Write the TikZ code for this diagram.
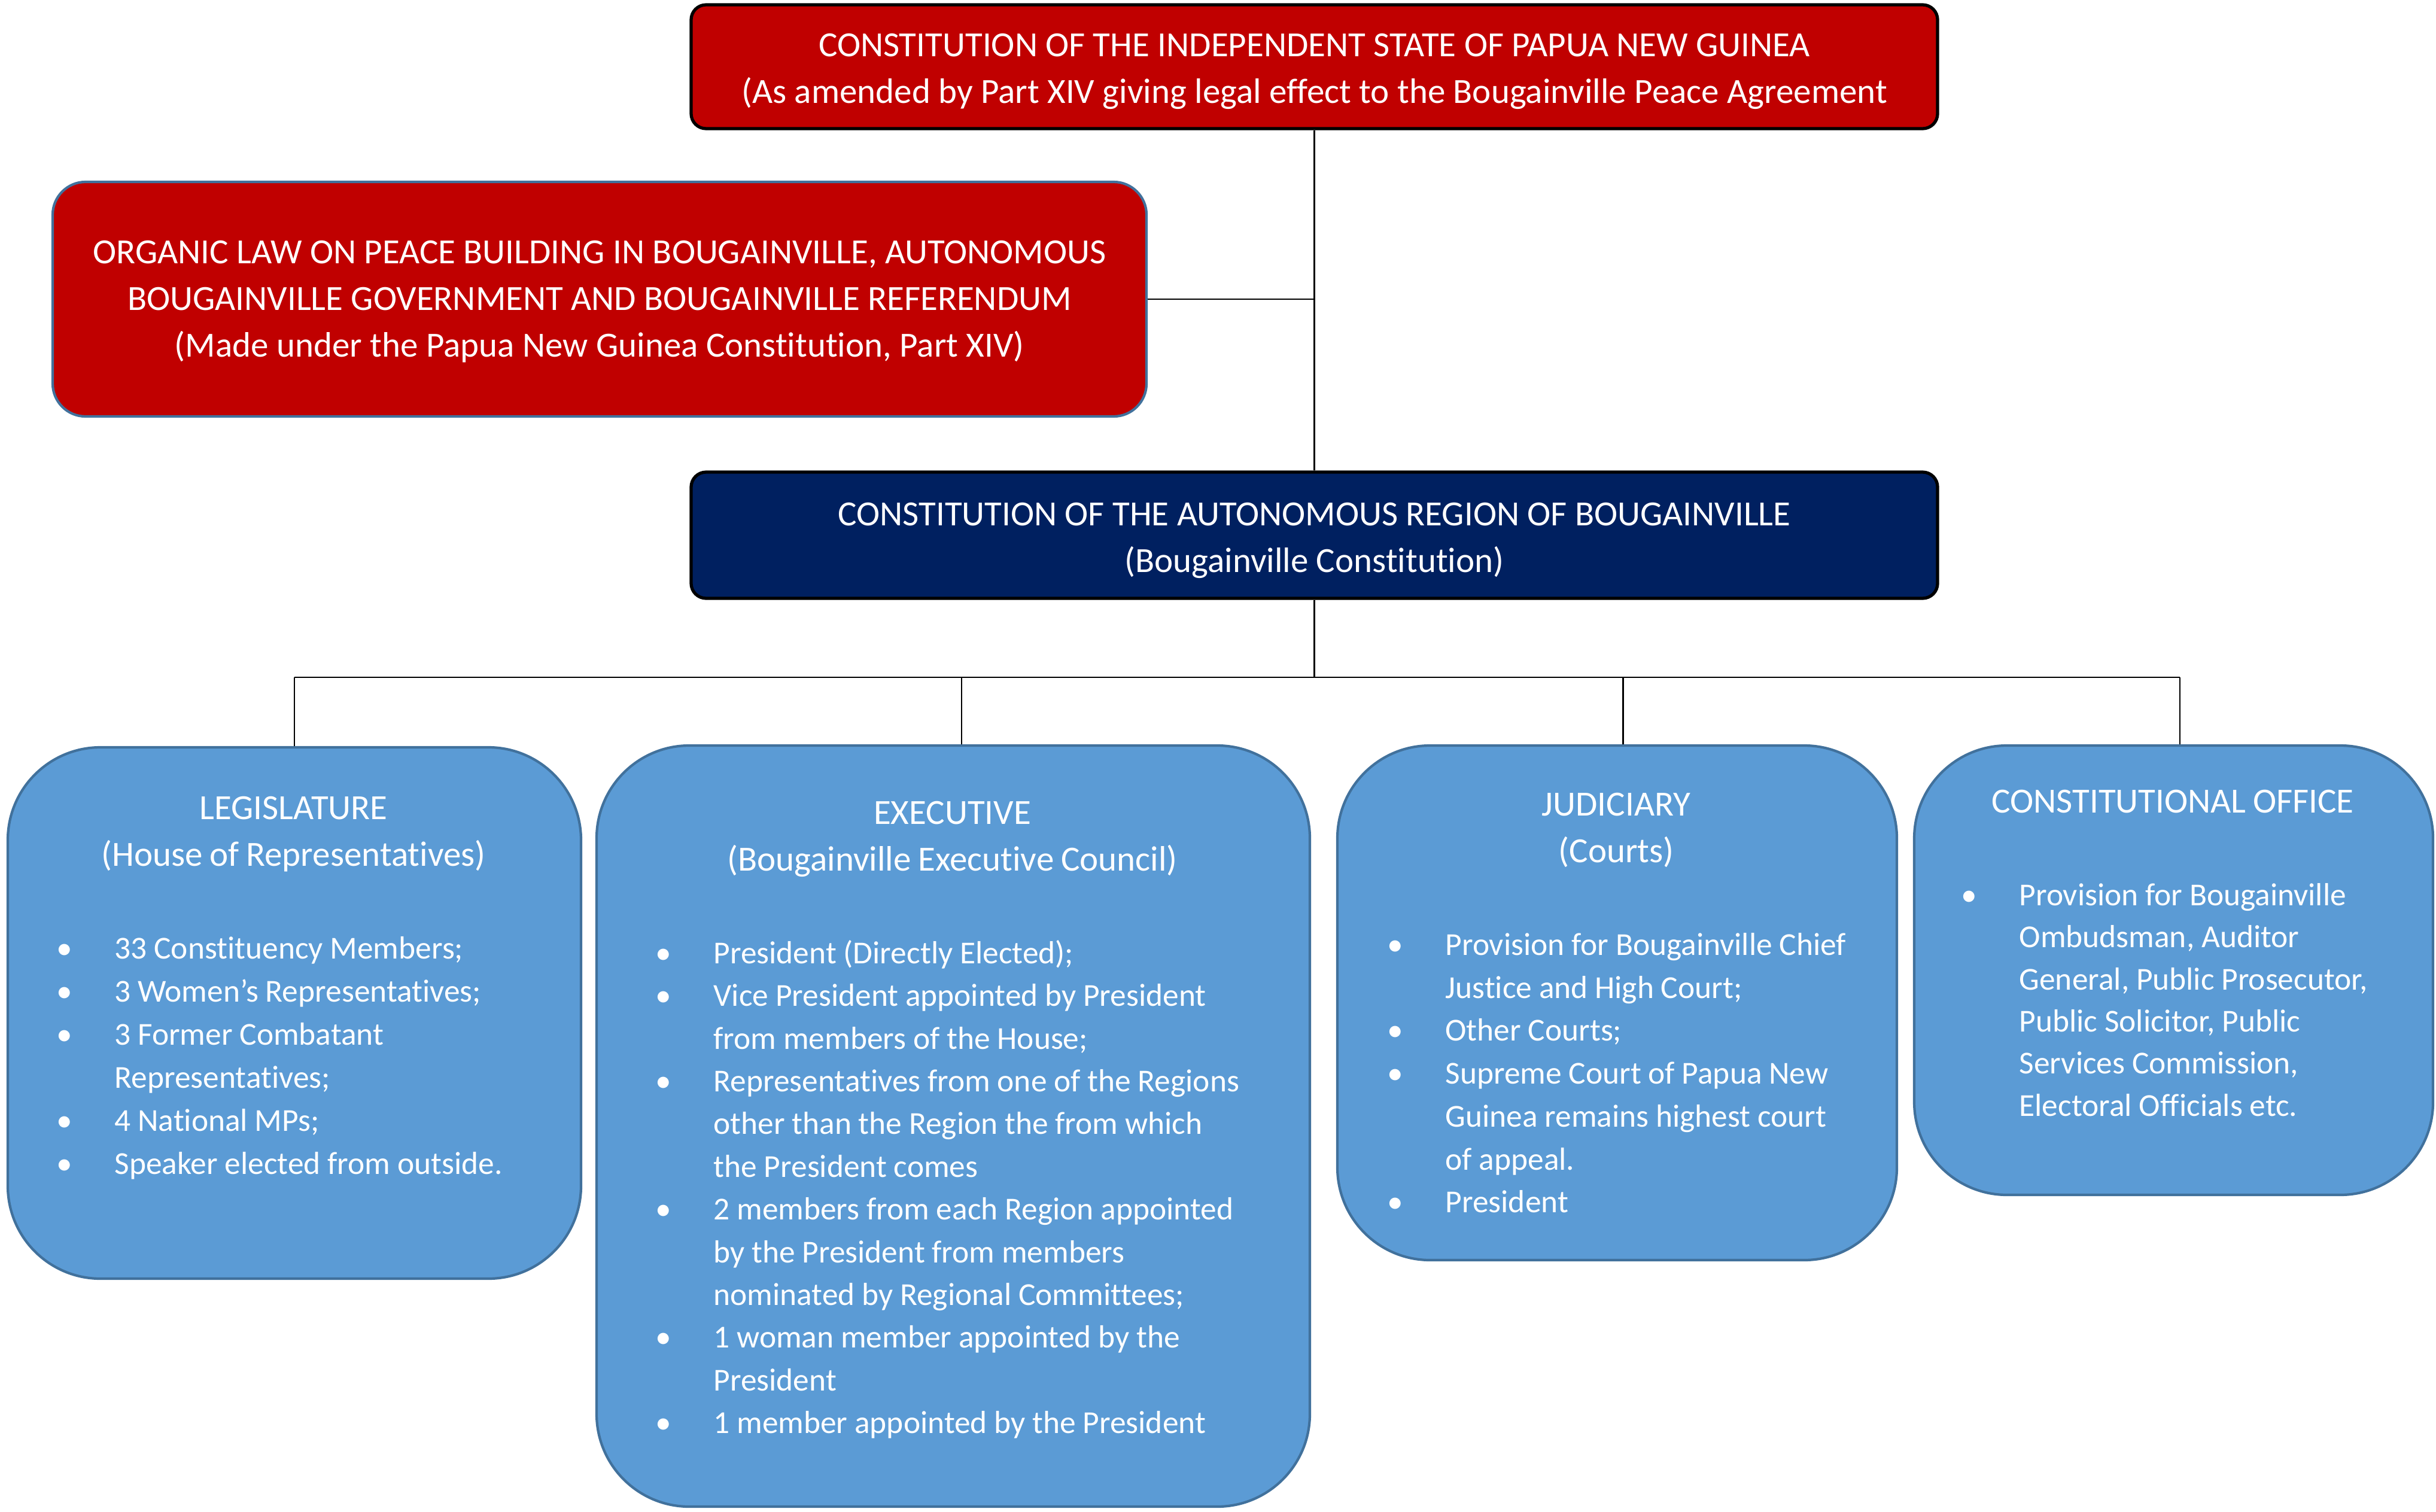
\documentclass[tikz,border=0pt]{standalone}
\usepackage{fontspec}
\setmainfont{Carlito}[Ligatures={NoCommon}]
\definecolor{pngred}{HTML}{C00000}
\definecolor{arbnavy}{HTML}{002060}
\definecolor{armblue}{HTML}{5B9BD5}
\definecolor{armedge}{HTML}{41719C}
\newcommand{\titlefont}{\fontsize{16.8pt}{22.2pt}\selectfont}
\newcommand{\listfont}{\fontsize{15.2pt}{20.5pt}\selectfont}
\newcommand{\bul}{\leavevmode\llap{\makebox[0pt]{•}\hspace{0.84cm}}}

\begin{document}
\begin{tikzpicture}[
  topbox/.style={draw=black, line width=1.5pt, rounded corners=0.25cm, text=white,
    align=center, font=\titlefont, minimum width=20.83cm},
  armbox/.style={draw=armedge, line width=1.2pt, fill=armblue, rounded corners=1.55cm},
  armtext/.style={text=white, inner sep=0pt, anchor=base west},
  wire/.style={line width=0.6pt}]
\useasboundingbox (0,0) rectangle (40.71,-25.26);

% верхний уровень
\node[topbox, fill=pngred, minimum height=2.07cm] (png) at (21.965,-1.115)
  {\rule{0pt}{15.3pt}CONSTITUTION OF THE INDEPENDENT STATE OF PAPUA NEW GUINEA\\
   (As amended by Part XIV giving legal effect to the Bougainville Peace Agreement};
\node[draw=armedge, line width=1.2pt, fill=pngred, rounded corners=0.55cm, text=white,
  align=center, font=\titlefont, minimum width=18.28cm, minimum height=3.92cm] (olaw) at (10.02,-5.00)
  {\rule{0pt}{13pt}ORGANIC LAW ON PEACE BUILDING IN BOUGAINVILLE, AUTONOMOUS\\
   BOUGAINVILLE GOVERNMENT AND BOUGAINVILLE REFERENDUM\\
   (Made under the Papua New Guinea Constitution, Part XIV)};
\node[topbox, fill=arbnavy, minimum height=2.11cm] (arob) at (21.965,-8.945)
  {\rule{0pt}{15.8pt}CONSTITUTION OF THE AUTONOMOUS REGION OF BOUGAINVILLE\\
   (Bougainville Constitution)};

% четыре ветви
\node[armbox, minimum width=9.58cm, minimum height=8.88cm] (legis) at (4.92,-16.93) {};
\node[armbox, minimum width=11.92cm, minimum height=12.72cm] (exec) at (15.93,-18.82) {};
\node[armbox, minimum width=9.35cm, minimum height=8.60cm] (judic) at (27.025,-16.76) {};
\node[armbox, minimum width=8.67cm, minimum height=7.51cm] (coff) at (36.325,-16.215) {};

\node[armtext, text width=9.58cm] (legisT) at ([yshift=-1.23cm]legis.north west)
  {{\titlefont\centering LEGISLATURE\\(House of Representatives)\par}\vspace{23.5pt}
   {\listfont\raggedright\leftskip=1.80cm
    \bul 33 Constituency Members;\\
    \bul 3 Women’s Representatives;\\
    \bul 3 Former Combatant\\
    Representatives;\\
    \bul 4 National MPs;\\
    \bul Speaker elected from outside.\par}};
\node[armtext, text width=11.92cm] (execT) at ([yshift=-1.34cm]exec.north west)
  {{\titlefont\centering EXECUTIVE\\(Bougainville Executive Council)\par}\vspace{23.7pt}
   {\listfont\baselineskip=20.3pt\raggedright\leftskip=1.97cm
    \bul President (Directly Elected);\\
    \bul Vice President appointed by President\\
    from members of the House;\\
    \bul Representatives from one of the Regions\\
    other than the Region the from which\\
    the President comes\\
    \bul 2 members from each Region appointed\\
    by the President from members\\
    nominated by Regional Committees;\\
    \bul 1 woman member appointed by the\\
    President\\
    \bul 1 member appointed by the President\par}};
\node[armtext, text width=9.35cm] (judicT) at ([yshift=-1.20cm]judic.north west)
  {{\titlefont\centering JUDICIARY\\(Courts)\par}\vspace{23.6pt}
   {\listfont\baselineskip=20.4pt\raggedright\leftskip=1.82cm
    \bul Provision for Bougainville Chief\\
    Justice and High Court;\\
    \bul Other Courts;\\
    \bul Supreme Court of Papua New\\
    Guinea remains highest court\\
    of appeal.\\
    \bul President\par}};
\node[armtext, text width=8.67cm] (coffT) at ([yshift=-1.15cm]coff.north west)
  {{\titlefont\centering CONSTITUTIONAL OFFICE\par}\vspace{24pt}
   {\listfont\baselineskip=20pt\raggedright\leftskip=1.77cm
    \bul Provision for Bougainville\\
    Ombudsman, Auditor\\
    General, Public Prosecutor,\\
    Public Solicitor, Public\\
    Services Commission,\\
    Electoral Officials etc.\par}};

% связи
\draw[wire] (png.south) -- (arob.north);
\draw[wire] (olaw.east) -- (olaw.east -| png.south);
\draw[wire] (arob.south) -- ++(0,-1.29) coordinate (bus);
\draw[wire] (bus -| legis.north) -- ([xshift=0.1cm]bus -| coff.north);
\foreach \b/\dx in {legis/0,exec/0.14,judic/0.1,coff/0.1}
  \draw[wire] ([xshift=\dx cm]bus -| \b.north) -- ([xshift=\dx cm]\b.north);
\end{tikzpicture}
\end{document}
